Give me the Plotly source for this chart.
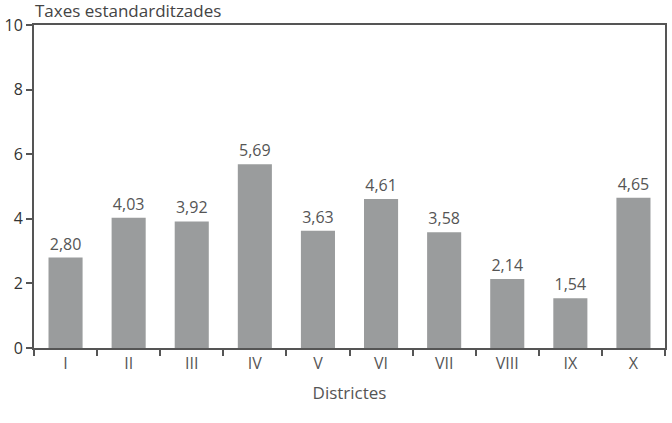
import plotly.graph_objects as go

districts = ["I", "II", "III", "IV", "V", "VI", "VII", "VIII", "IX", "X"]
rates = [2.80, 4.03, 3.92, 5.69, 3.63, 4.61, 3.58, 2.14, 1.54, 4.65]
labels = [f"{v:.2f}".replace(".", ",") for v in rates]

font = "Open Sans, Noto Sans, sans-serif"
fig = go.Figure(go.Bar(
    x=districts, y=rates, text=labels, textposition="outside",
    marker=dict(color="#9a9c9d", line=dict(width=0)),
    width=0.54, cliponaxis=False,
    textfont=dict(size=16, color="#555", family=font),
))
fig.update_layout(
    width=672, height=423,
    margin=dict(l=32, r=5, t=25, b=75),
    plot_bgcolor="white", paper_bgcolor="white",
    showlegend=False,
    font=dict(family=font, size=16, color="#444"),
    xaxis=dict(
        tickson="boundaries", ticks="outside", ticklen=6, tickcolor="#555", tickwidth=2,
        showline=True, linecolor="#555", linewidth=2, mirror=True,
        title=dict(text="Districtes", font=dict(size=17, color="#555"), standoff=14),
        tickfont=dict(size=16, color="#555"),
    ),
    yaxis=dict(
        range=[0, 10], dtick=2, ticks="outside", ticklen=6, tickcolor="#555", tickwidth=1.5,
        showline=True, linecolor="#555", linewidth=2, mirror=True,
        showgrid=False, zeroline=False,
        tickfont=dict(size=16, color="#333"),
    ),
    annotations=[dict(
        text="Taxes estandarditzades", xref="paper", yref="paper",
        x=0, y=1, xanchor="left", yanchor="bottom", yshift=1, xshift=-1,
        showarrow=False, font=dict(size=17, color="#444"),
    )],
)
fig.write_html("out.html")
